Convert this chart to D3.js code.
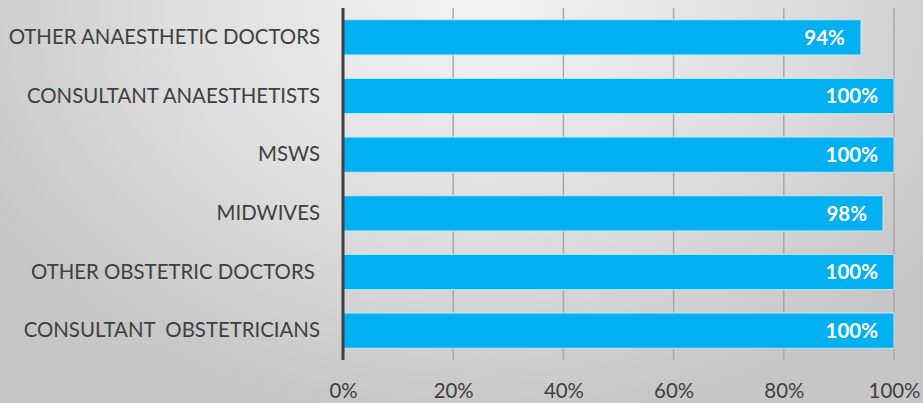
<!DOCTYPE html>
<html>
<head>
<meta charset="utf-8">
<script src="https://cdn.jsdelivr.net/npm/d3@7"></script>
<style>
  html, body { margin: 0; padding: 0; }
  body { width: 923px; height: 403px; overflow: hidden; }
  svg { display: block; }
  text { white-space: pre; }
</style>
</head>
<body>
<svg id="chart" width="923" height="403"></svg>
<script>
// Staff groups, listed top to bottom
const categories = [
  "OTHER ANAESTHETIC DOCTORS",
  "CONSULTANT ANAESTHETISTS",
  "MSWS",
  "MIDWIVES",
  "OTHER OBSTETRIC DOCTORS ",
  "CONSULTANT  OBSTETRICIANS"
];
// Share of each group (percent)
const values = [94, 100, 100, 98, 100, 100];
const tickValues = [0, 20, 40, 60, 80, 100];

const W = 923, H = 403;
const svg = d3.select("#chart");

// Soft grey backdrop, brightest near the top centre
const defs = svg.append("defs");
const grad = defs.append("radialGradient")
  .attr("id", "bg").attr("gradientUnits", "userSpaceOnUse")
  .attr("cx", 480).attr("cy", 0).attr("r", 560)
  .attr("gradientTransform", "translate(480,0) scale(1,0.75) translate(-480,0)");
grad.append("stop").attr("offset", "0%").attr("stop-color", "#f3f3f3");
grad.append("stop").attr("offset", "55%").attr("stop-color", "#dedede");
grad.append("stop").attr("offset", "100%").attr("stop-color", "#c6c6c6");
svg.append("rect").attr("width", W).attr("height", H).attr("fill", "url(#bg)");

const x = d3.scaleLinear().domain([0, 100]).range([343, 894]);
const y = d3.scaleBand().domain(categories).range([8, 360]).paddingInner(0.4).paddingOuter(0.2);

// Vertical gridlines
svg.append("g").selectAll("line").data(tickValues.slice(1)).join("line")
  .attr("x1", d => x(d)).attr("x2", d => x(d))
  .attr("y1", 8).attr("y2", 360)
  .attr("stroke", "#a8a8a8").attr("stroke-width", 1.5);

// Bars
svg.append("g").selectAll("rect").data(values).join("rect")
  .attr("x", x(0))
  .attr("y", (d, i) => y(categories[i]))
  .attr("width", d => x(d) - x(0))
  .attr("height", y.bandwidth())
  .attr("fill", "#00b0f0")
  .attr("stroke", "#bde6f7").attr("stroke-width", 1);

// Value labels inside the bar ends
svg.append("g").selectAll("text").data(values).join("text")
  .attr("x", d => x(d) - 16)
  .attr("y", (d, i) => y(categories[i]) + y.bandwidth() / 2)
  .attr("dy", "0.36em")
  .attr("text-anchor", "end")
  .attr("font-family", "Lato, 'Open Sans', sans-serif")
  .attr("font-weight", "bold")
  .attr("font-size", 20.5)
  .attr("fill", "#ffffff")
  .text(d => d + "%");

// Category axis
const yAxis = svg.append("g").attr("transform", `translate(${x(0)},0)`)
  .call(d3.axisLeft(y).tickSize(0).tickPadding(23));
yAxis.select(".domain").remove();
yAxis.selectAll("text")
  .attr("font-family", "Lato, 'Open Sans', sans-serif")
  .attr("font-size", 20.4)
  .attr("fill", "#404040");

svg.append("line")
  .attr("x1", x(0)).attr("x2", x(0)).attr("y1", 8).attr("y2", 360)
  .attr("stroke", "#404040").attr("stroke-width", 3);

// Percentage axis
const xAxis = svg.append("g").attr("transform", "translate(0,360)")
  .call(d3.axisBottom(x).tickValues(tickValues).tickFormat(d => d + "%").tickSize(0).tickPadding(24));
xAxis.select(".domain").remove();
xAxis.selectAll("text")
  .attr("font-family", "Lato, 'Open Sans', sans-serif")
  .attr("font-size", 20.4)
  .attr("fill", "#404040");
</script>
</body>
</html>
